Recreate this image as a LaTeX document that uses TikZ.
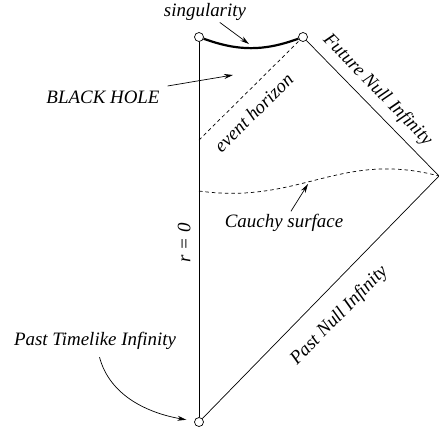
\documentclass[tikz,border=0pt]{standalone}
\usepackage{fontspec}
\setmainfont{Liberation Serif}
\usetikzlibrary{arrows.meta}
\begin{document}
\begin{tikzpicture}[>={Stealth[length=9bp, width=5bp]}, x=1bp, y=1bp, line width=0.7pt, font=\fontsize{19}{22}\selectfont\itshape]

% Styles
\tikzstyle{dot} = [draw, circle, fill=white, inner sep=0pt, minimum size=9bp]
\tikzstyle{tag} = [inner sep=2bp]
\tikzstyle{horizon} = [dash pattern=on 3.5bp off 3bp]
\tikzstyle{sing} = [line width=2.2bp]

\useasboundingbox (0,0) rectangle (439,-429);

% Corners
\node[dot] (tl) at (199,-37) {};
\node[dot, right of=tl, node distance=104bp] (tr) {};
\node[dot, below of=tl, node distance=385bp] (bottom) {};
\coordinate (inf) at (439,-176);
\coordinate (eh) at (199,-140);
\coordinate (csleft) at (199,-191);

% Boundaries
\draw (bottom) -- node[tag, sloped, above=6bp, pos=0.465] {r = 0} (tl);
\draw (tr) -- node[tag, sloped, above=5bp, pos=0.45] {Future Null Infinity} (inf);
\draw (bottom) -- node[tag, sloped, below=15bp, pos=0.5] {Past Null Infinity} (inf);
\draw[sing] (tl) to[out=-20, in=200] (tr);
\draw[horizon] (eh) -- node[tag, sloped, below=10bp, pos=0.41] {event horizon} (tr);
\draw[horizon] (csleft) .. controls (300,-205) and (340,-150) .. (inf);

% Labels
\node[tag, anchor=base] (singlabel) at (205,-16) {singularity};
\node[tag, anchor=base] (bh) at (103,-103) {BLACK HOLE};
\node[tag, anchor=base] (cs) at (284,-227) {Cauchy surface};
\node[tag, anchor=base] (pti) at (95,-345) {Past Timelike Infinity};
\coordinate (singtip) at (249,-44);
\coordinate (bhtip) at (233,-75);
\coordinate (cstip) at (308,-184);

% Pointers
\draw[->] (singlabel) -- (singtip);
\draw[->, shorten <=13bp] (bh) -- (bhtip);
\draw[->] (cs) -- (cstip);
\draw[->, shorten <=6bp, shorten >=8bp] (pti) to[out=-75, in=170] (bottom);

\end{tikzpicture}
\end{document}
